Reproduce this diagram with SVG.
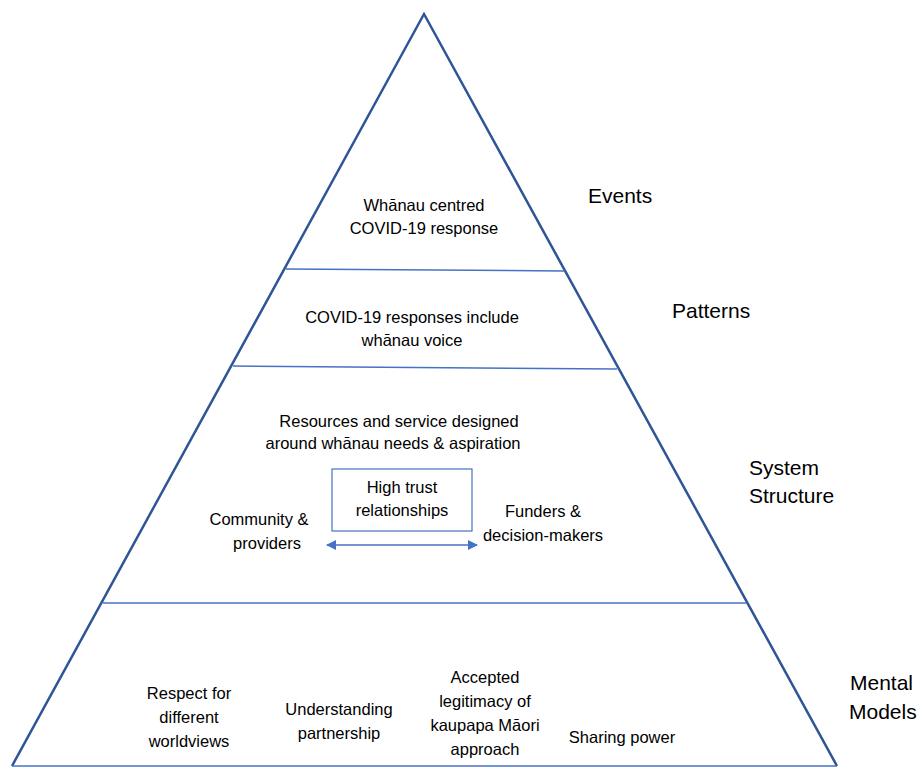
<svg xmlns="http://www.w3.org/2000/svg" width="919" height="767" viewBox="0 0 919 767">
<style>
text{font-family:"Liberation Sans","Open Sans",sans-serif;fill:#000}
.t{font-size:16.5px;text-anchor:middle}
.l{font-size:21px}
.div{stroke:#4472C4;stroke-width:1.5;fill:none}
</style>
<defs>
<marker id="ah" viewBox="0 0 10 10" refX="9" refY="5" markerWidth="10" markerHeight="10" markerUnits="userSpaceOnUse" orient="auto-start-reverse">
<path d="M0,0 L10,5 L0,10 z" fill="#4472C4"/>
</marker>
</defs>
<rect width="919" height="767" fill="#fff"/>
<g id="pyramid">
<path d="M12,766 L424,14 L837,766" fill="none" stroke="#2F5597" stroke-width="2.5"/>
<line class="div" x1="12" y1="766" x2="837" y2="766" stroke="#8FAADC"/>
<line class="div" x1="286" y1="269" x2="565" y2="271"/>
<line class="div" x1="233" y1="366" x2="617" y2="369"/>
<line class="div" x1="103" y1="603" x2="747" y2="603"/>
</g>
<g id="events">
<text class="t" x="424" y="211">Whānau centred</text>
<text class="t" x="424" y="234">COVID-19 response</text>
</g>
<g id="patterns">
<text class="t" x="412" y="323">COVID-19 responses include</text>
<text class="t" x="412" y="346">whānau voice</text>
</g>
<g id="structure">
<text class="t" x="399" y="427">Resources and service designed</text>
<text class="t" x="393" y="449">around whānau needs &amp; aspiration</text>
</g>
<g id="trust">
<rect x="332" y="469" width="140" height="62" fill="none" stroke="#4472C4" stroke-width="1.2"/>
<text class="t" x="402" y="493">High trust</text>
<text class="t" x="402" y="516">relationships</text>
</g>
<g id="community">
<text class="t" x="259" y="525">Community &amp;</text>
<text class="t" x="267" y="549">providers</text>
</g>
<g id="funders">
<text class="t" x="543" y="517">Funders &amp;</text>
<text class="t" x="543" y="541">decision-makers</text>
</g>
<g id="connectors">
<line x1="327" y1="545" x2="477" y2="545" stroke="#4472C4" stroke-width="1.5" marker-start="url(#ah)" marker-end="url(#ah)"/>
</g>
<g id="respect">
<text class="t" x="189" y="699">Respect for</text>
<text class="t" x="189" y="723">different</text>
<text class="t" x="189" y="747">worldviews</text>
</g>
<g id="understanding">
<text class="t" x="339" y="715">Understanding</text>
<text class="t" x="339" y="739">partnership</text>
</g>
<g id="accepted">
<text class="t" x="485" y="683">Accepted</text>
<text class="t" x="485" y="707">legitimacy of</text>
<text class="t" x="485" y="731">kaupapa Māori</text>
<text class="t" x="485" y="755">approach</text>
</g>
<g id="sharing">
<text class="t" x="622" y="743">Sharing power</text>
</g>
<g id="labels">
<text class="l" x="588" y="203">Events</text>
<text class="l" x="672" y="318">Patterns</text>
<text class="l" x="749" y="475">System</text>
<text class="l" x="749" y="503">Structure</text>
<text class="l" x="850" y="690">Mental</text>
<text class="l" x="849" y="719">Models</text>
</g>
</svg>
